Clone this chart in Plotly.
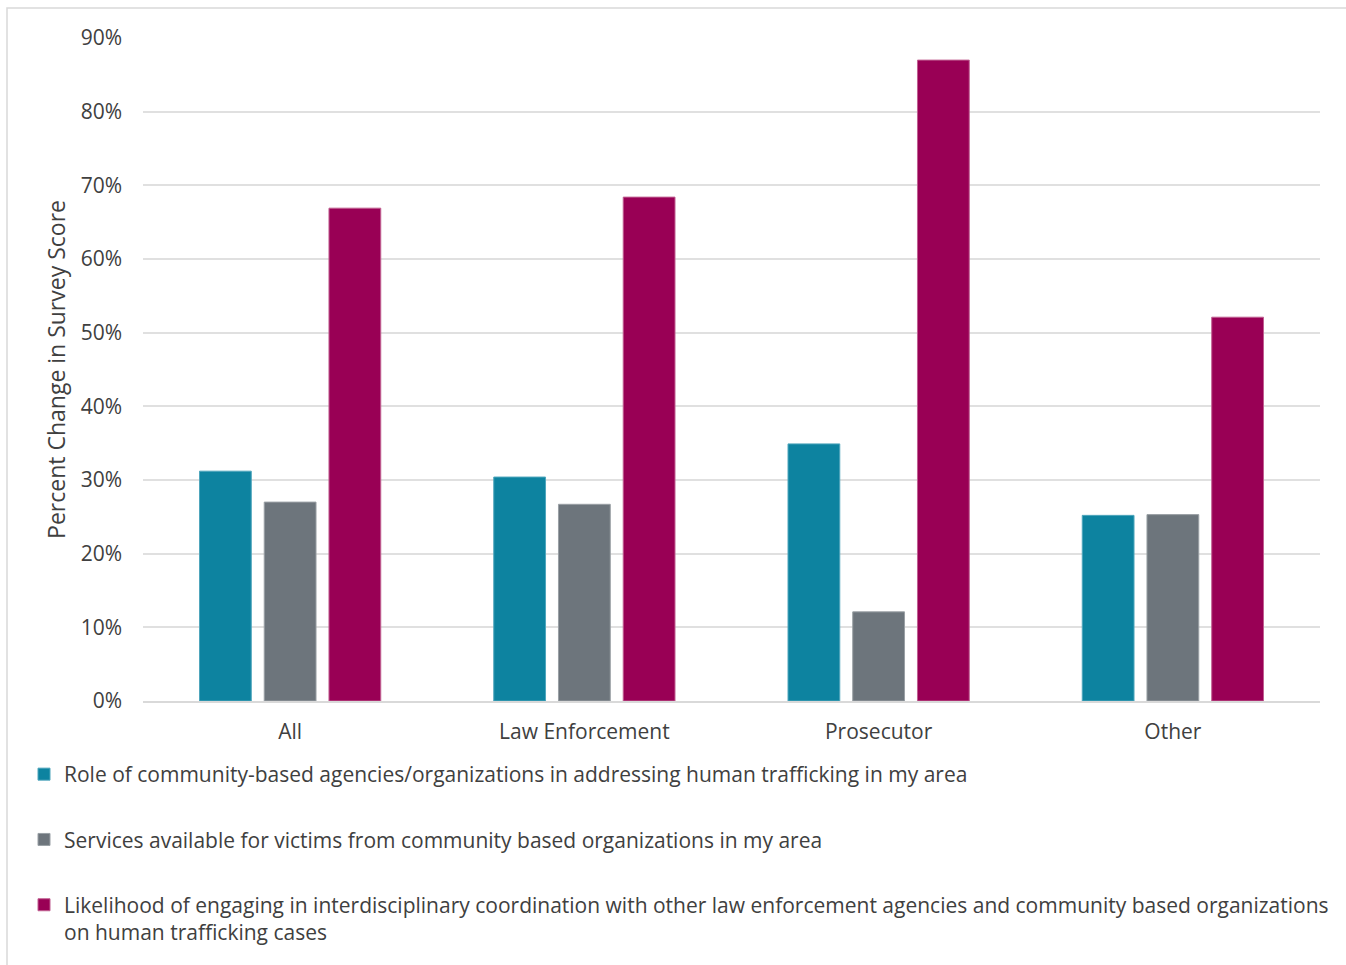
import plotly.graph_objects as go

# Respondent groups on the x axis
categories = ["All", "Law Enforcement", "Prosecutor", "Other"]

# Percent change in survey score per item (fractions)
role_of_cbos = [0.312, 0.304, 0.349, 0.252]
services_for_victims = [0.270, 0.267, 0.121, 0.253]
interdisciplinary_coordination = [0.669, 0.684, 0.870, 0.521]

series_names = [
    "Role of community-based agencies/organizations in addressing human trafficking in my area",
    "Services available for victims from community based organizations in my area",
    "Likelihood of engaging in interdisciplinary coordination with other law enforcement agencies and community based organizations<br>on human trafficking cases",
]
series_values = [role_of_cbos, services_for_victims, interdisciplinary_coordination]
series_colors = ["#0D83A0", "#6D757C", "#990055"]
outline_colors = ["#4FA6BC", "#9AA0A5", "#C05F91"]

y_ticks = [0, 0.1, 0.2, 0.3, 0.4, 0.5, 0.6, 0.7, 0.8, 0.9]

FONT = "Open Sans"
TEXT = "#404040"

fig = go.Figure()
for i, (name, vals, col, lc) in enumerate(zip(series_names, series_values, series_colors, outline_colors)):
    fig.add_trace(go.Bar(
        x=categories,
        y=vals,
        name=name,
        legendgroup=f"g{i}",
        marker=dict(color=col, line=dict(color=lc, width=1)),
        hoverinfo="x+y",
    ))

W, H = 1346, 965
L, R, T, B = 143, 26, 38, 264
pw, ph = W - L - R, H - T - B

fig.update_layout(
    width=W,
    height=H,
    margin=dict(l=L, r=R, t=T, b=B, pad=0),
    paper_bgcolor="white",
    plot_bgcolor="white",
    barmode="group",
    bargap=0.34,
    bargroupgap=0.2,
    font=dict(family=FONT, size=21, color=TEXT),
    showlegend=True,
    legend=dict(
        orientation="v",
        x=(24 - L) / pw,
        xanchor="left",
        y=(T + ph - 754) / ph,
        yanchor="top",
        valign="top",
        traceorder="grouped",
        tracegroupgap=35,
        font=dict(family=FONT, size=21, color=TEXT),
        bgcolor="rgba(0,0,0,0)",
    ),
    xaxis=dict(
        showgrid=False,
        showline=True,
        linecolor="#D9D9D9",
        linewidth=1.5,
        ticks="",
        ticklabelstandoff=11,
        tickfont=dict(family=FONT, size=21, color=TEXT),
    ),
    yaxis=dict(
        range=[0, 0.9],
        tickvals=y_ticks,
        tickformat=".0%",
        showgrid=True,
        gridcolor="#E0E0E0",
        gridwidth=1.5,
        zeroline=False,
        showline=False,
        ticks="",
        ticklabelstandoff=20,
        tickfont=dict(family=FONT, size=21, color=TEXT),
        title=dict(
            text="Percent Change in Survey Score",
            font=dict(family=FONT, size=23, color=TEXT),
            standoff=8,
        ),
    ),
    shapes=[
        # light frame around the whole chart area
        dict(
            type="rect",
            xref="paper",
            yref="paper",
            x0=(7 - L) / pw,
            x1=(W + 20 - L) / pw,
            y0=(T + ph - (H + 20)) / ph,
            y1=1 + (T - 8) / ph,
            line=dict(color="#D9D9D9", width=1.5),
            fillcolor="rgba(0,0,0,0)",
            layer="below",
        )
    ],
)

fig.write_html("out.html")
